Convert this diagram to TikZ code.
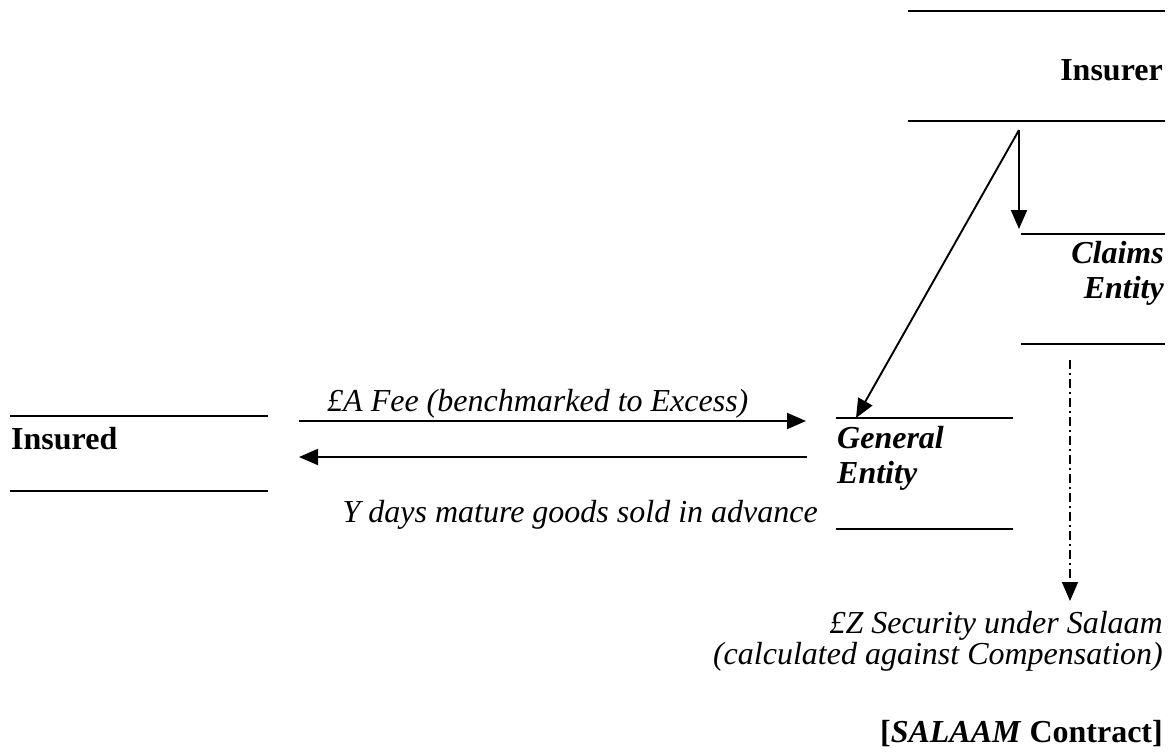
\documentclass[tikz,border=0pt]{standalone}
\usepackage{fontspec}
\setmainfont{Liberation Serif}
\usetikzlibrary{arrows.meta}
\begin{document}
\begin{tikzpicture}[x=1pt,y=-1pt,
  rule/.style={line width=1.9pt},
  flow/.style={line width=1.9pt,-{Triangle[length=19pt,width=16pt]}},
  partyname/.style={font=\fontsize{32}{34}\selectfont\bfseries,inner sep=0pt},
  entityname/.style={font=\fontsize{32}{34}\selectfont\bfseries\itshape,inner sep=0pt},
  note/.style={font=\fontsize{32}{34}\selectfont\itshape,inner sep=0pt}]
\useasboundingbox (0,0) rectangle (1173,753);

% Insurer
\draw[rule] (908,11) -- (1165,11);
\draw[rule] (908,121) -- (1165,121);
\node[partyname,anchor=base east] (insurer) at (1163,80) {Insurer};
\coordinate (insurerfoot) at (1019,130);

% Claims Entity
\draw[rule] (1021,234) -- (1165,234);
\draw[rule] (1021,344) -- (1165,344);
\node[entityname,anchor=base east] (claims) at (1164,263) {Claims};
\node[entityname,anchor=base east] (claimsb) at (1164,298) {Entity};
\coordinate (claimstop) at (1019,229);
\coordinate (claimsfoot) at (1070,360);

% General Entity
\draw[rule] (836,418) -- (1013,418);
\draw[rule] (836,529) -- (1013,529);
\node[entityname,anchor=base west] (general) at (837,448) {General};
\node[entityname,anchor=base west] (generalb) at (837,483) {Entity};
\coordinate (generaltop) at (856,418);

% Insured
\draw[rule] (10,416) -- (268,416);
\draw[rule] (10,491) -- (268,491);
\node[partyname,anchor=base west] (insured) at (11,449) {Insured};

% Flows between the parties
\coordinate (feestart) at (299,421);
\coordinate (feeend) at (806,421);
\coordinate (goodsstart) at (807,457);
\coordinate (goodsend) at (299,457);
\draw[flow] (feestart) -- (feeend);
\draw[flow] (goodsstart) -- (goodsend);
\node[note,anchor=base west] (fee) at (327,411) {£A Fee (benchmarked to Excess)};
\node[note,anchor=base east] (goods) at (818,522) {Y days mature goods sold in advance};

\draw[flow] (insurerfoot) -- (claimstop);
\draw[flow] (insurerfoot) -- (generaltop);

% Security under the salaam
\coordinate (securitytip) at (1070,601);
\draw[flow,line width=1.5pt,dash pattern=on 9pt off 4pt on 2pt off 4pt] (claimsfoot) -- (securitytip);
\node[note,anchor=base east] (security) at (1163,633) {£Z Security under Salaam};
\node[note,anchor=base east] (securityb) at (1163,664) {(calculated against Compensation)};

\node[partyname,anchor=base east] (contract) at (1163,742) {[\textit{SALAAM} Contract]};
\end{tikzpicture}
\end{document}
